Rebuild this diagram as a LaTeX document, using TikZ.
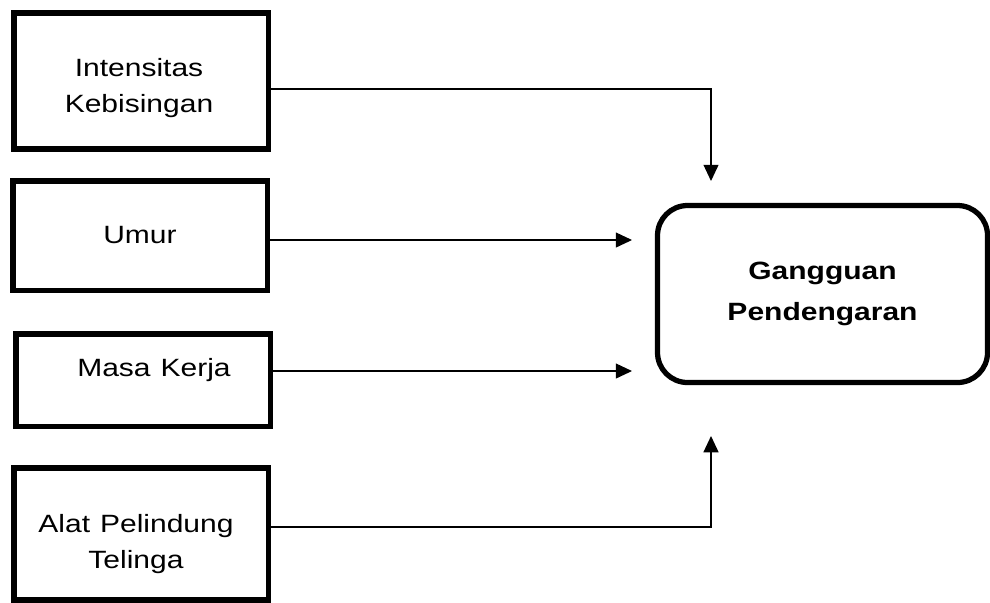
\documentclass[tikz,border=0pt]{standalone}
\usepackage{fontspec}
\setmainfont{Liberation Sans}[FakeStretch=1.2]
\usepackage{tikz}
\usetikzlibrary{arrows.meta, positioning, calc}

\begin{document}
\begin{tikzpicture}[x=0.4pt, y=-0.4pt,
        kotak/.style={draw, line width=2.2pt, rectangle, minimum width=254.5*0.4pt, inner sep=0pt, font=\fontsize{10}{14.4}\selectfont, align=center},
        hasil/.style={draw, line width=2.1pt, rounded corners=12pt, minimum width=330*0.4pt, minimum height=177*0.4pt, font=\fontsize{10}{16.4}\selectfont\bfseries, align=center},
        teks/.style={font=\fontsize{10}{14.4}\selectfont, align=center, inner sep=0pt},
        panah/.style={-{Triangle[width=6pt, length=6.5pt]}, line width=0.5pt}]
        \useasboundingbox (0,0) rectangle (990,602);

        % Variabel bebas
        \node[kotak, minimum height=136*0.4pt] (intensitas) at (141,81) {};
        \node[teks, anchor=base] (intensitasteks) at (139,112) {Intensitas\\Kebisingan};
        \node[kotak, minimum height=109.5*0.4pt] (umur) at (140,235.5) {Umur};
        \node[kotak, minimum height=92.5*0.4pt] (masa) at (143,380) {};
        \node[teks, anchor=base] (masateks) at (154,376) {Masa\hspace{0.4em}Kerja};
        \node[kotak, minimum height=132*0.4pt] (apt) at (141,534) {};
        \node[teks, anchor=base] (aptteks) at (136,568) {Alat\hspace{0.4em}Pelindung\\Telinga};

        % Variabel terikat
        \node[hasil] (gangguan) at (822.5,294) {Gangguan\\Pendengaran};

        % Ujung panah
        \coordinate (ujungA) at (711,181);
        \coordinate (ujungB) at (632,240);
        \coordinate (ujungC) at (632,371);
        \coordinate (ujungD) at (711,436);

        % Panah
        \draw[panah] (intensitas.east |- 0,89) -| (ujungA);
        \draw[panah] (umur.east |- ujungB) -- (ujungB);
        \draw[panah] (masa.east |- ujungC) -- (ujungC);
        \draw[panah] (apt.east |- 0,527) -| (ujungD);
    \end{tikzpicture}
\end{document}
